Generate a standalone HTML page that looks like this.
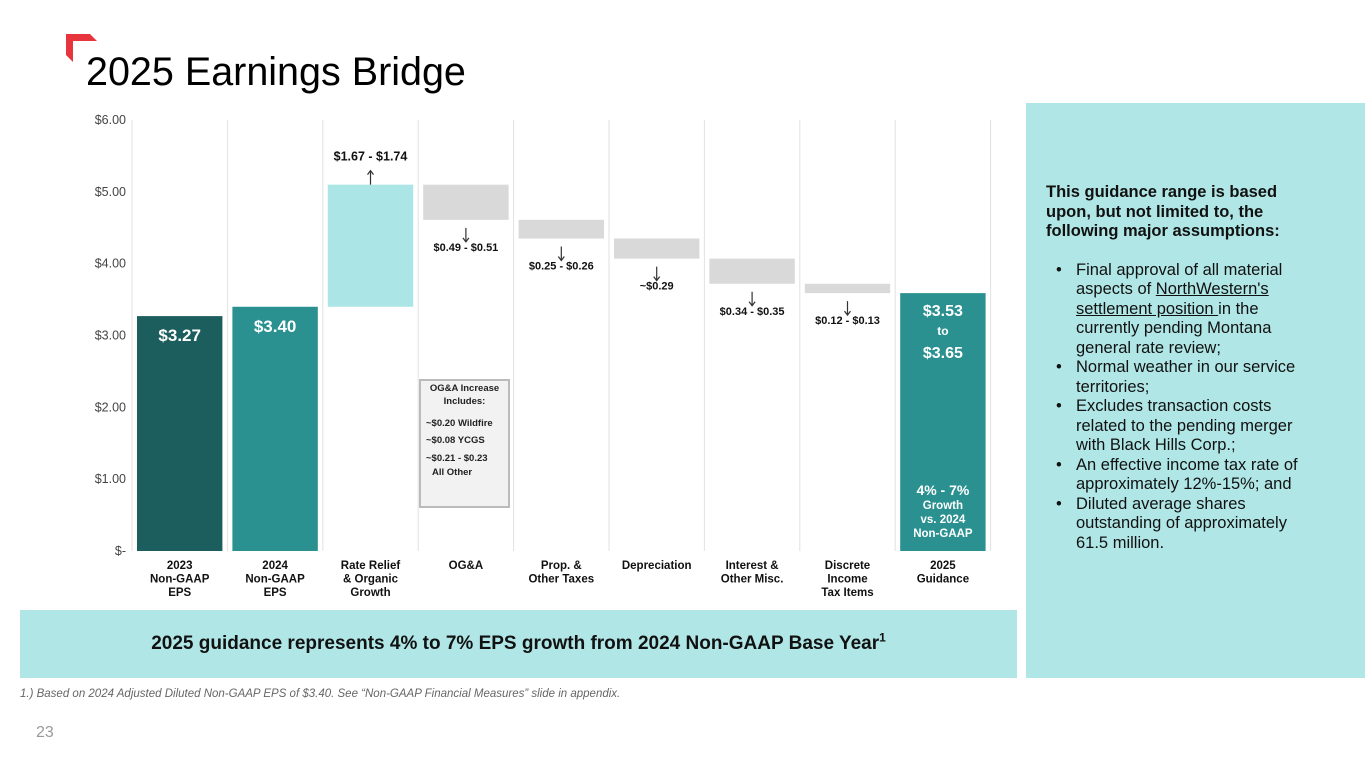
<!DOCTYPE html>
<html><head><meta charset="utf-8">
<style>
body{margin:0;width:1365px;height:768px;background:#fff;position:relative;overflow:hidden;font-family:"Liberation Sans",Arial,sans-serif;}
.abs{position:absolute;}
#title{left:86px;top:50px;font-size:39.5px;color:#000;}
#side{left:1026px;top:103px;width:339px;height:575px;background:#b0e6e6;}
#side-text{position:absolute;left:20px;top:80px;width:278px;font-size:16.5px;line-height:19.5px;color:#111;}
#side-text ul{margin:19px 0 0 0;padding:0 8px 0 30px;}
#side-text li{list-style:none;position:relative;}
#side-text li:before{content:"•";position:absolute;left:-20px;}
#banner{left:20px;top:610px;width:997px;height:68px;background:#b0e6e6;font-weight:bold;font-size:19px;text-align:center;line-height:68px;color:#111;}
#foot{left:20px;top:688px;font-size:11.5px;font-style:italic;color:#666;}
#pg{left:36px;top:724px;font-size:16px;color:#999;}
</style></head><body>
<svg class="abs" style="left:66px;top:34px" width="32" height="30"><polygon points="0,0 24,0 31,7 7,7 7,28 0,21" fill="#e8343c"/></svg>
<div id="title" class="abs">2025 Earnings Bridge</div>
<svg id="chart" class="abs" style="left:0;top:0" width="1020" height="610"></svg>
<div id="side" class="abs">
<div id="side-text"><b>This guidance range is based upon, but not limited to, the following major assumptions:</b>
<ul>
<li>Final approval of all material aspects of <u>NorthWestern's settlement position </u>in the currently pending Montana general rate review;</li>
<li>Normal weather in our service territories;</li>
<li>Excludes transaction costs related to the pending merger with Black Hills Corp.;</li>
<li>An effective income tax rate of approximately 12%-15%; and</li>
<li>Diluted average shares outstanding of approximately 61.5 million.</li>
</ul></div></div>
<div id="banner" class="abs">2025 guidance represents 4% to 7% EPS growth from 2024 Non-GAAP Base Year<sup style="font-size:12px;line-height:0">1</sup></div>
<div id="foot" class="abs">1.) Based on 2024 Adjusted Diluted Non-GAAP EPS of $3.40. See “Non-GAAP Financial Measures” slide in appendix.</div>
<div id="pg" class="abs">23</div>
<script>
const categories=[["2023","Non-GAAP","EPS"],["2024","Non-GAAP","EPS"],["Rate Relief","& Organic","Growth"],["OG&A"],["Prop. &","Other Taxes"],["Depreciation"],["Interest &","Other Misc."],["Discrete","Income","Tax Items"],["2025","Guidance"]];
const barStart=[0,0,3.40,5.10,4.61,4.35,4.07,3.72,0];
const barEnd=[3.27,3.40,5.10,4.61,4.35,4.07,3.72,3.59,3.59];
const changeLabels=["","","$1.67 - $1.74","$0.49 - $0.51","$0.25 - $0.26","~$0.29","$0.34 - $0.35","$0.12 - $0.13",""];
const barColors=["#1c5e5e","#2a9090","#ace5e6","#d9d9d9","#d9d9d9","#d9d9d9","#d9d9d9","#d9d9d9","#2a9090"];
const yTicks=[0,1,2,3,4,5,6];
const yTickLabels=["$-","$1.00","$2.00","$3.00","$4.00","$5.00","$6.00"];
const NS="http://www.w3.org/2000/svg";
const svg=document.getElementById('chart');
const x0=132,colW=95.4,yBase=551,yTop=120,yMax=6;
const y=v=>yBase-(v/yMax)*(yBase-yTop);
const xc=i=>x0+colW*i;
function mk(tag,at,txt){const e=document.createElementNS(NS,tag);for(const k in at)e.setAttribute(k,at[k]);if(txt!==undefined)e.textContent=txt;svg.appendChild(e);return e;}
for(let i=0;i<=categories.length;i++){const l=mk('line',{x1:xc(i),x2:xc(i),y1:yTop,y2:yBase,stroke:'#e2e2e2'});

}
yTicks.forEach((t,i)=>{const e=mk('text',{x:126,y:y(t)+4,'text-anchor':'end','font-size':12.5,fill:'#444'},yTickLabels[i]);

});
categories.forEach((c,i)=>{
 const lo=Math.min(barStart[i],barEnd[i]),hi=Math.max(barStart[i],barEnd[i]);
 const r=mk('rect',{x:xc(i)+5,y:y(hi),width:colW-10,height:y(lo)-y(hi),fill:barColors[i]});
 
 
 c.forEach((s,j)=>{const t=mk('text',{x:xc(i)+colW/2,y:569+j*13.5,'text-anchor':'middle','font-size':11.5,'font-weight':'bold',fill:'#111'},s);
 
 });
 const cx=xc(i)+colW/2;
 if(i===2){const a=mk('text',{x:cx,y:y(hi)-24,'text-anchor':'middle','font-size':12.5,'font-weight':'bold',fill:'#111'},changeLabels[i]);
 
 
 const ar=mk('path',{d:`M${cx},${y(hi)} V${y(hi)-14} M${cx-3},${y(hi)-10} L${cx},${y(hi)-14} L${cx+3},${y(hi)-10}`,stroke:'#333',fill:'none','stroke-width':1.2});
 
 }
 else if(changeLabels[i]){const b=y(lo);
 const ar=mk('path',{d:`M${cx},${b+8} V${b+22} M${cx-3},${b+18} L${cx},${b+22} L${cx+3},${b+18}`,stroke:'#333',fill:'none','stroke-width':1.2});
 
 
 const a=mk('text',{x:cx,y:b+31,'text-anchor':'middle','font-size':11,'font-weight':'bold',fill:'#111'},changeLabels[i]);
 
 }
});
function wt(x,yy,s,fs,nm){const t=mk('text',{x:x,y:yy,'text-anchor':'middle','font-size':fs,'font-weight':'bold',fill:'#fff'},s);

}
wt(xc(0)+colW/2,y(barEnd[0])+25,'$3.27',17,'value-2023');
wt(xc(1)+colW/2,y(barEnd[1])+25,'$3.40',17,'value-2024');
const g=xc(8)+colW/2;
wt(g,y(barEnd[8])+23,'$3.53',16,'guidance-low');
wt(g,y(barEnd[8])+42,'to',12,'guidance-to');
wt(g,y(barEnd[8])+65,'$3.65',16,'guidance-high');
wt(g,495,'4% - 7%',14,'growth-range');
wt(g,509,'Growth',11.5,'growth-text');
wt(g,523,'vs. 2024',11.5,'growth-text');
wt(g,537,'Non-GAAP',11.5,'growth-text');
const bx=mk('rect',{x:420,y:380,width:89,height:127,fill:'#f2f2f2',stroke:'#bbb','stroke-width':2});


[["OG&A Increase",464.5,391,'middle'],["Includes:",464.5,404,'middle'],["~$0.20 Wildfire",426,426,'start'],["~$0.08 YCGS",426,443,'start'],["~$0.21 - $0.23",426,461,'start'],["All Other",432,475,'start']].forEach(d=>{
 const t=mk('text',{x:d[1],y:d[2],'text-anchor':d[3],'font-size':9.5,'font-weight':'bold',fill:'#222'},d[0]);
 
 });
</script>
</body></html>
